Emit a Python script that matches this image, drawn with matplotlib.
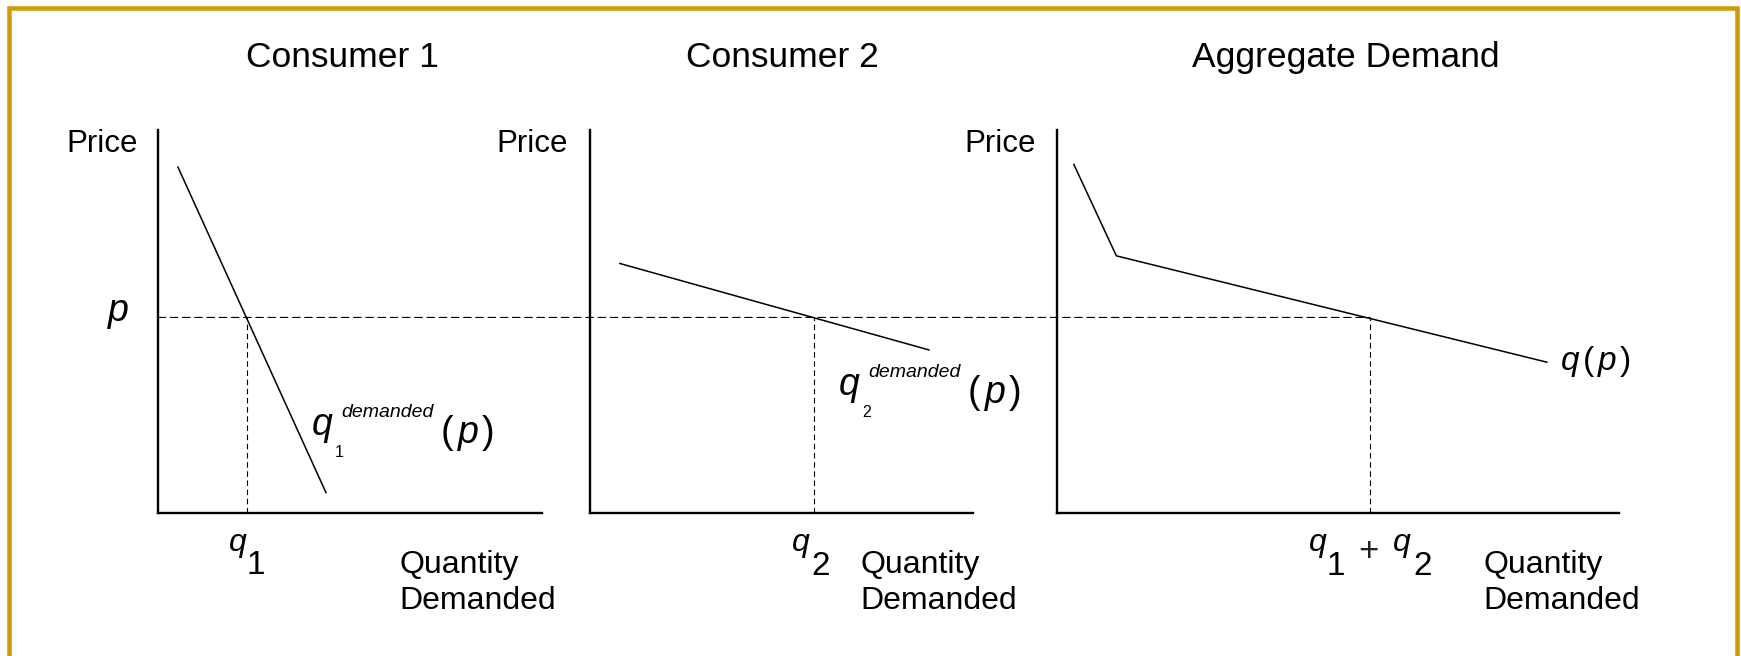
import matplotlib

matplotlib.use("Agg")
import matplotlib.pyplot as plt
from matplotlib.patches import ConnectionPatch, Rectangle

# in price / quantity units (price axis 0..10)
price_top = 10.0
p_star = 5.1

c1_q = [0.52, 4.38]
c1_p = [9.03, 0.52]
q1 = 2.32

c2_q = [0.78, 8.85]
c2_p = [6.51, 4.25]
q2 = 5.85

agg_q = [0.44, 1.55, 12.79]
agg_p = [9.10, 6.71, 3.93]

titles = ["Consumer 1", "Consumer 2", "Aggregate Demand"]

W, H = 1741, 656
plt.rcParams["font.family"] = ["Liberation Sans", "DejaVu Sans"]
plt.rcParams["lines.scale_dashes"] = False
gold = "#CF9D0C"
axis_lw = 1.7
curve_lw = 1.1
dash_h = (0, (5.5, 3.3))
dash_v = (0, (4.0, 2.6))


def fx(x):
    return x / W


def fy(y):
    return 1 - y / H


def panel(fig, left, top, right, bottom, xmax):
    ax = fig.add_axes([fx(left), fy(bottom), (right - left) / W, (bottom - top) / H])
    ax.set_xlim(0, xmax)
    ax.set_ylim(0, price_top)
    ax.patch.set_alpha(0)
    for side in ["top", "right"]:
        ax.spines[side].set_visible(False)
    for side in ["left", "bottom"]:
        ax.spines[side].set_linewidth(axis_lw)
    ax.set_xticks([])
    ax.set_yticks([])
    return ax


def label(fig, x, y, s, size, style="normal", ha="left", color="k"):
    fig.text(
        fx(x), fy(y), s, fontsize=size, fontstyle=style, ha=ha, va="baseline",
        color=color,
    )


def main():
    fig = plt.figure(figsize=(W / 100, H / 100), dpi=100)

    # gold slide frame (open at the bottom)
    fig.patches.append(
        Rectangle(
            (fx(9.3), fy(720)),
            (1736.5 - 9.3) / W,
            (720 - 7.5) / H,
            transform=fig.transFigure,
            fill=False,
            edgecolor=gold,
            linewidth=3.3,
            clip_on=False,
        )
    )

    px_per_q = 38.3
    ax1 = panel(fig, 158, 130, 541.5, 512.5, 10)
    ax2 = panel(fig, 590, 130, 973, 512.5, 10)
    ax3 = panel(fig, 1057, 130, 1619, 512.5, (1619 - 1057) / px_per_q)

    ax1.plot(c1_q, c1_p, color="k", lw=curve_lw)
    ax2.plot(c2_q, c2_p, color="k", lw=curve_lw)
    ax3.plot(agg_q, agg_p, color="k", lw=curve_lw)

    q_sum = q1 + q2
    for ax, q in [(ax1, q1), (ax2, q2), (ax3, q_sum)]:
        ax.plot([q, q], [0, p_star], color="k", lw=0.8, linestyle=dash_v)

    # price line running across all three panels
    con = ConnectionPatch(
        xyA=(0, p_star),
        coordsA="data",
        axesA=ax1,
        xyB=(q_sum, p_star),
        coordsB="data",
        axesB=ax3,
        color="k",
        lw=0.8,
        linestyle=dash_h,
    )
    fig.add_artist(con)

    # titles and axis words
    for cx, t in zip([342, 782, 1346], titles):
        label(fig, cx, 67, t, 25.5, ha="center")
    for rx in [138, 568, 1036]:
        label(fig, rx, 152, "Price", 22.5, ha="right")
    for lx in [399.5, 860.5, 1483.5]:
        label(fig, lx, 573, "Quantity", 23)
        label(fig, lx, 609, "Demanded", 23)

    label(fig, 108, 321, "p", 27, style="italic")

    # quantity markers under the axes
    label(fig, 229, 551, "q", 23, style="italic")
    label(fig, 246.5, 574, "1", 24)
    label(fig, 791.5, 551, "q", 23, style="italic")
    label(fig, 811.5, 575, "2", 24)
    label(fig, 1309, 551, "q", 23, style="italic")
    label(fig, 1326.5, 575, "1", 24)
    label(fig, 1358, 561, "+", 25, color="#222222")
    label(fig, 1392.5, 551, "q", 23, style="italic")
    label(fig, 1413, 575, "2", 24)

    # curve labels
    for qx, top, sub in [(312, 415, "1"), (839, 375, "2")]:
        label(fig, qx, top + 20, "q", 27, style="italic")
        label(fig, qx + 23, top + 42, sub, 11.5)
        label(fig, qx + 29, top + 2, "demanded", 14, style="italic")
        label(fig, qx + 129, top + 28, "(", 27)
        label(fig, qx + 146, top + 28, "p", 27, style="italic")
        label(fig, qx + 170, top + 28, ")", 27)
    label(fig, 1561, 370, "q", 24, style="italic")
    label(fig, 1583, 370, "(", 24)
    label(fig, 1598, 370, "p", 24, style="italic")
    label(fig, 1620, 370, ")", 24)

    fig.savefig("out.png", dpi=100)


if __name__ == "__main__":
    main()
